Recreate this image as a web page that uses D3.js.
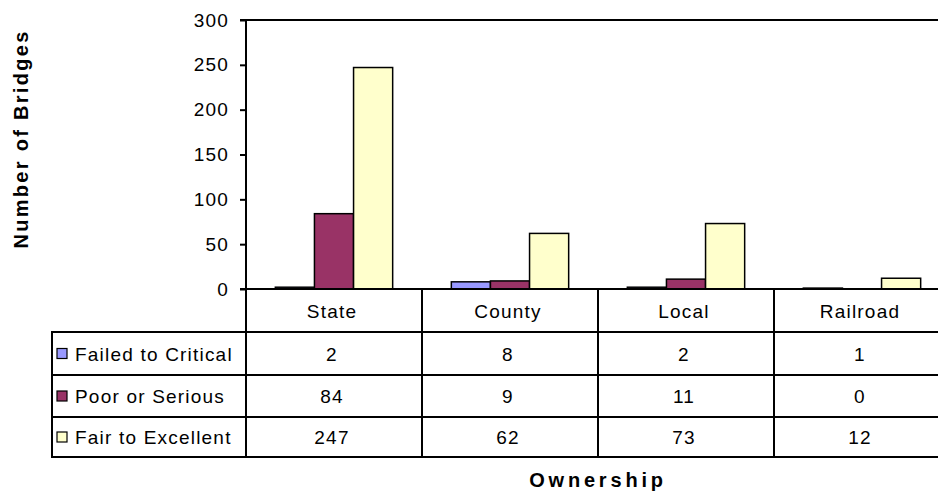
<!DOCTYPE html>
<html>
<head>
<meta charset="utf-8">
<script src="https://cdn.jsdelivr.net/npm/d3@7"></script>
<style>
  html, body { margin: 0; padding: 0; background: #fff; }
  svg { display: block; }
  text { font-family: "Liberation Sans", Arial, sans-serif; fill: #000; }
</style>
</head>
<body>
<svg id="chart" width="938" height="498"></svg>
<script>
const categories = ["State", "County", "Local", "Railroad"];
const seriesNames = ["Failed to Critical", "Poor or Serious", "Fair to Excellent"];
const failedToCritical = [2, 8, 2, 1];
const poorOrSerious = [84, 9, 11, 0];
const fairToExcellent = [247, 62, 73, 12];
const seriesColors = ["#9999ff", "#993366", "#ffffcc"];
const yTicks = [0, 50, 100, 150, 200, 250, 300];

const seriesValues = [failedToCritical, poorOrSerious, fairToExcellent];

const svg = d3.select("#chart");
const plotLeft = 246, plotRight = 950, plotTop = 20, plotBottom = 289;
const rowLines = [289, 332, 375, 417, 457];
const legendLeft = 52;
const fs = 19, ls = 1.2;

const x = d3.scaleBand().domain(categories).range([plotLeft, plotRight]).paddingInner(0).paddingOuter(0);
const xs = d3.scaleBand().domain(seriesNames).range([0, x.bandwidth()]).paddingInner(0).paddingOuter(0.75);
const y = d3.scaleLinear().domain([0, 300]).range([plotBottom, plotTop]);

// bars
const g = svg.append("g");
categories.forEach((c, ci) => {
  seriesNames.forEach((s, si) => {
    const v = seriesValues[si][ci];
    g.append("rect")
      .attr("x", x(c) + xs(s))
      .attr("y", y(v))
      .attr("width", xs.bandwidth())
      .attr("height", Math.max(0, y(0) - y(v)))
      .attr("fill", seriesColors[si])
      .attr("stroke", "#000")
      .attr("stroke-width", 1.5);
  });
});

// top border
svg.append("line").attr("x1", plotLeft - 6).attr("x2", 938).attr("y1", plotTop).attr("y2", plotTop)
  .attr("stroke", "#000").attr("stroke-width", 2);

// y axis
const yAxis = svg.append("g").attr("transform", `translate(${plotLeft},0)`)
  .call(d3.axisLeft(y).tickValues(yTicks).tickSize(6).tickPadding(11));
yAxis.select(".domain").remove();
yAxis.selectAll(".tick line").attr("stroke", "#000").attr("stroke-width", 2);
yAxis.selectAll(".tick text").attr("font-size", fs).attr("letter-spacing", ls)
  .attr("font-family", "Liberation Sans, Arial, sans-serif").attr("fill", "#000");

// vertical axis line (extends through table)
svg.append("line").attr("x1", plotLeft).attr("x2", plotLeft).attr("y1", plotTop - 1).attr("y2", rowLines[4] + 1)
  .attr("stroke", "#000").attr("stroke-width", 2);

// table horizontal lines
rowLines.forEach((ry, i) => {
  svg.append("line")
    .attr("x1", i === 0 ? plotLeft - 6 : legendLeft)
    .attr("x2", 938)
    .attr("y1", ry).attr("y2", ry)
    .attr("stroke", "#000").attr("stroke-width", 2);
});
// legend column left line
svg.append("line").attr("x1", legendLeft).attr("x2", legendLeft).attr("y1", rowLines[1] - 1).attr("y2", rowLines[4] + 1)
  .attr("stroke", "#000").attr("stroke-width", 2);
// category separators
categories.forEach((c, ci) => {
  if (ci === 0) return;
  svg.append("line").attr("x1", x(c)).attr("x2", x(c)).attr("y1", rowLines[0]).attr("y2", rowLines[4] + 1)
    .attr("stroke", "#000").attr("stroke-width", 2);
});

// header row
categories.forEach(c => {
  svg.append("text").attr("x", x(c) + x.bandwidth() / 2 - 2).attr("y", (rowLines[0] + rowLines[1]) / 2 + 7)
    .attr("text-anchor", "middle").attr("font-size", fs).attr("letter-spacing", ls).text(c);
});

// data rows
seriesNames.forEach((s, si) => {
  const cy = (rowLines[si + 1] + rowLines[si + 2]) / 2;
  svg.append("rect").attr("x", 57).attr("y", cy - 5).attr("width", 10).attr("height", 10)
    .attr("fill", seriesColors[si]).attr("stroke", "#000").attr("stroke-width", 1.2);
  svg.append("text").attr("x", 75).attr("y", cy + 7).attr("font-size", fs).attr("letter-spacing", ls).text(s);
  categories.forEach((c, ci) => {
    svg.append("text").attr("x", x(c) + x.bandwidth() / 2 - 2).attr("y", cy + 7)
      .attr("text-anchor", "middle").attr("font-size", fs).attr("letter-spacing", ls)
      .text(seriesValues[si][ci]);
  });
});

// axis titles
svg.append("text").attr("transform", `translate(28,139) rotate(-90)`).attr("text-anchor", "middle")
  .attr("font-size", 20).attr("font-weight", "bold").attr("letter-spacing", 2.3).text("Number of Bridges");
svg.append("text").attr("x", 598).attr("y", 487).attr("text-anchor", "middle")
  .attr("font-size", 20).attr("font-weight", "bold").attr("letter-spacing", 3.8).text("Ownership");
</script>
</body>
</html>
